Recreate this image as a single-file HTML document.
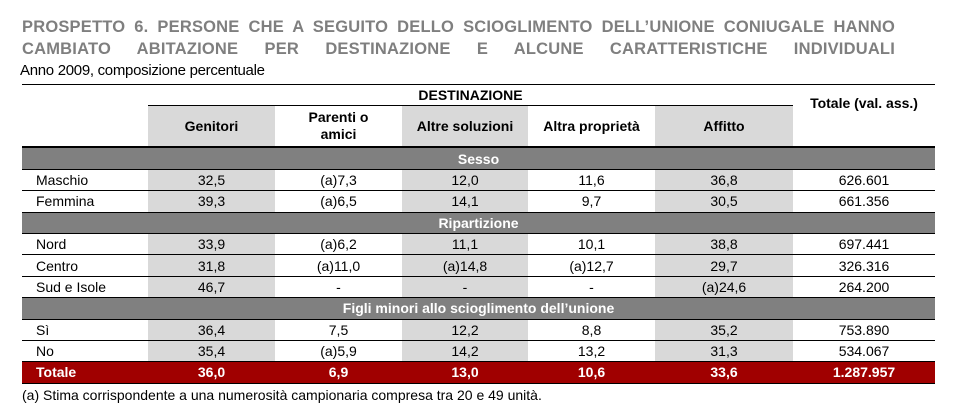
<!DOCTYPE html><html><head><meta charset="utf-8"><style>
body{margin:0;width:958px;height:420px;background:#fff;font-family:"Liberation Sans",sans-serif;position:relative;overflow:hidden}
.t{position:absolute;left:22px;width:873px;color:#7f7f7f;font-weight:bold;font-size:16.5px;text-align:justify;text-align-last:justify;white-space:nowrap;letter-spacing:0.2px}
.sub{position:absolute;left:20px;top:62px;font-size:15px;color:#000;letter-spacing:-0.3px}
table{position:absolute;left:22px;top:84px;border-collapse:collapse;table-layout:fixed;width:913px;font-size:14px}
td{padding:0;text-align:center;border-bottom:1px solid #000;height:20.4px;line-height:20px}
.g{background:#d9d9d9}
.band td{background:#808080;color:#fff;font-weight:bold}
.hd td{font-weight:bold;height:40px;line-height:17px}
.tot td{background:#a00000;color:#fff;font-weight:bold;border-bottom:1px solid #000}
td.l{text-align:left;padding-left:14px}
.foot{position:absolute;left:22px;top:387px;font-size:14px}
</style></head><body>
<div class="t" style="top:18px">PROSPETTO 6. PERSONE CHE A SEGUITO DELLO SCIOGLIMENTO DELL’UNIONE CONIUGALE HANNO</div>
<div class="t" style="top:40px">CAMBIATO ABITAZIONE PER DESTINAZIONE E ALCUNE CARATTERISTICHE INDIVIDUALI</div>
<div class="sub">Anno 2009, composizione percentuale</div>
<table>
<colgroup><col style="width:126px"><col style="width:127px"><col style="width:127px"><col style="width:126px"><col style="width:127px"><col style="width:138px"><col style="width:142px"></colgroup>
<tr style="border-top:1px solid #000"><td style="border:none"></td><td colspan="5" style="font-weight:bold">DESTINAZIONE</td><td rowspan="2" style="font-weight:bold;vertical-align:top;padding-top:8px;border-bottom:2px solid #000">Totale (val. ass.)</td></tr>
<tr class="hd"><td style="border-bottom:2px solid #000"></td><td class="g" style="border-bottom:2px solid #000">Genitori</td><td style="border-bottom:2px solid #000">Parenti o<br>amici</td><td class="g" style="border-bottom:2px solid #000">Altre soluzioni</td><td style="border-bottom:2px solid #000">Altra proprietà</td><td class="g" style="border-bottom:2px solid #000">Affitto</td></tr>
<tr class="band"><td colspan="7">Sesso</td></tr>
<tr><td class="l">Maschio</td><td class="g">32,5</td><td>(a)7,3</td><td class="g">12,0</td><td>11,6</td><td class="g">36,8</td><td>626.601</td></tr>
<tr><td class="l">Femmina</td><td class="g">39,3</td><td>(a)6,5</td><td class="g">14,1</td><td>9,7</td><td class="g">30,5</td><td>661.356</td></tr>
<tr class="band"><td colspan="7">Ripartizione</td></tr>
<tr><td class="l">Nord</td><td class="g">33,9</td><td>(a)6,2</td><td class="g">11,1</td><td>10,1</td><td class="g">38,8</td><td>697.441</td></tr>
<tr><td class="l">Centro</td><td class="g">31,8</td><td>(a)11,0</td><td class="g">(a)14,8</td><td>(a)12,7</td><td class="g">29,7</td><td>326.316</td></tr>
<tr><td class="l">Sud e Isole</td><td class="g">46,7</td><td>-</td><td class="g">-</td><td>-</td><td class="g">(a)24,6</td><td>264.200</td></tr>
<tr class="band"><td colspan="7">Figli minori allo scioglimento dell’unione</td></tr>
<tr><td class="l">Sì</td><td class="g">36,4</td><td>7,5</td><td class="g">12,2</td><td>8,8</td><td class="g">35,2</td><td>753.890</td></tr>
<tr><td class="l">No</td><td class="g">35,4</td><td>(a)5,9</td><td class="g">14,2</td><td>13,2</td><td class="g">31,3</td><td>534.067</td></tr>
<tr class="tot"><td class="l">Totale</td><td>36,0</td><td>6,9</td><td>13,0</td><td>10,6</td><td>33,6</td><td>1.287.957</td></tr>
</table>
<div class="foot">(a) Stima corrispondente a una numerosità campionaria compresa tra 20 e 49 unità.</div>
</body></html>
